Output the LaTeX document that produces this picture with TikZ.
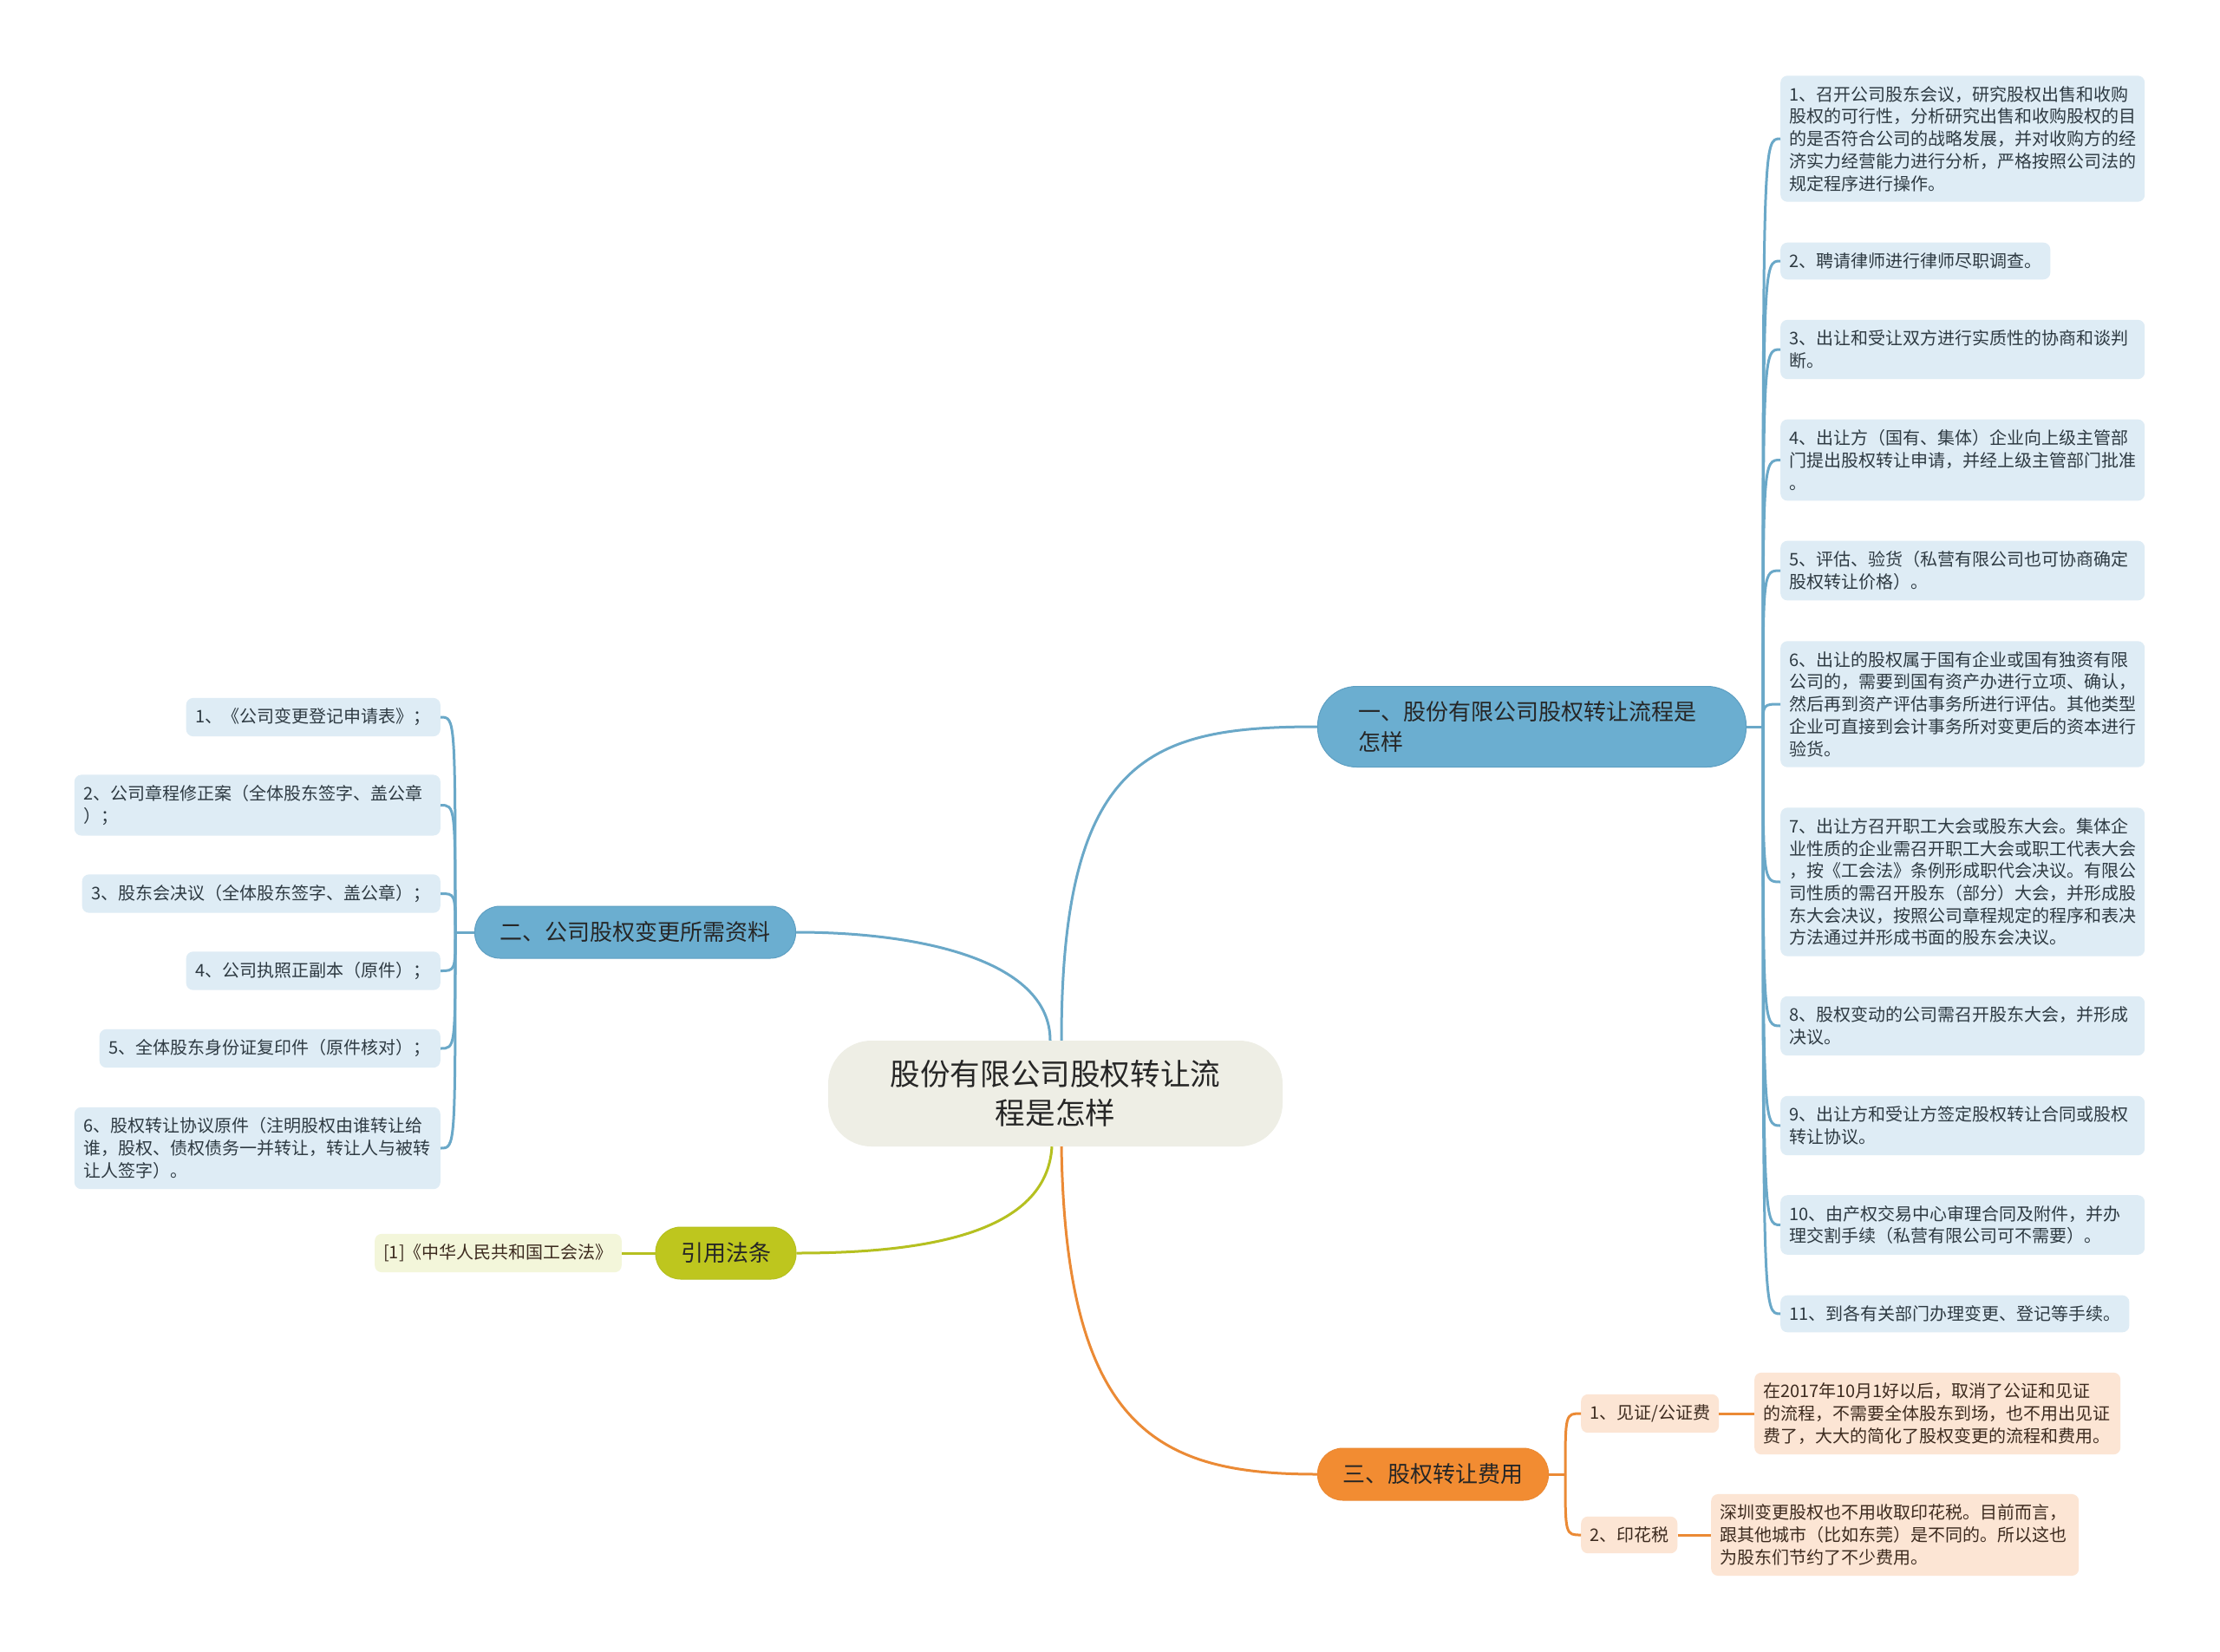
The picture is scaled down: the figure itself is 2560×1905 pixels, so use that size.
\documentclass[tikz,border=0pt]{standalone}
\usepackage{fontspec}
\setmainfont{Noto Sans CJK SC}
\definecolor{cfill}{HTML}{EEEEE5}
\definecolor{bfill}{HTML}{6BAED0}
\definecolor{bedge}{HTML}{5E9FC2}
\definecolor{bline}{HTML}{6AA8C8}
\definecolor{lfill}{HTML}{DEECF5}
\definecolor{gfill}{HTML}{BEC61E}
\definecolor{gline}{HTML}{B5C020}
\definecolor{glfill}{HTML}{F3F6DA}
\definecolor{ofill}{HTML}{F28C32}
\definecolor{oline}{HTML}{EB8A35}
\definecolor{olfill}{HTML}{FCE5D4}
\definecolor{ltext}{HTML}{2E3A42}
\definecolor{otext}{HTML}{3D2B1F}
\begin{document}
\begin{tikzpicture}[x=1pt,y=-1pt,
  centernode/.style={rounded corners=50pt, fill=cfill, minimum width=524pt, minimum height=122pt, align=center, font=\fontsize{34.6}{45.7}\selectfont, text=black!85},
  branch/.style={rounded corners=29pt, minimum height=60pt, inner xsep=29pt, inner ysep=0pt, font=\fontsize{26}{35}\selectfont, text=black!85},
  leaf/.style={rounded corners=8pt, inner xsep=10pt, inner ysep=12pt, align=left, font=\fontsize{20}{25.7}\selectfont, text=ltext},
  wide/.style={text width=400pt},
  bl/.style={draw=bline, line width=3pt},
  gl/.style={draw=gline, line width=3pt},
  ol/.style={draw=oline, line width=3pt}
]
\useasboundingbox (0,0) rectangle (2560,1905);
\fill[white] (0,0) rectangle (2560,1905);

% central node
\node[centernode] (c) at (1217,1261) {股份有限公司股权转让流\\程是怎样};

% branches
\node[branch, fill=bfill, draw=bedge, line width=1pt, rounded corners=45pt, minimum height=93pt, inner xsep=47pt, text width=400pt, align=left] (b1) at (1766.5,838) {一、股份有限公司股权转让流程是\\怎样};
\node[branch, fill=bfill, draw=bedge, line width=1pt] (b2) at (732.5,1075) {二、公司股权变更所需资料};
\node[branch, fill=gfill, draw=gline, line width=1pt] (b3) at (837,1445) {引用法条};
\node[branch, fill=ofill, draw=oline, line width=1pt] (b4) at (1652.5,1700) {三、股权转让费用};

% right leaves
\begin{scope}[every node/.style={leaf, fill=lfill, anchor=west}]
\node[wide] (r1) at (2053,160) {1、召开公司股东会议，研究股权出售和收购\\股权的可行性，分析研究出售和收购股权的目\\的是否符合公司的战略发展，并对收购方的经\\济实力经营能力进行分析，严格按照公司法的\\规定程序进行操作。};
\node (r2) at (2053,301) {2、聘请律师进行律师尽职调查。};
\node[wide] (r3) at (2053,403) {3、出让和受让双方进行实质性的协商和谈判\\断。};
\node[wide] (r4) at (2053,530.5) {4、出让方（国有、集体）企业向上级主管部\\门提出股权转让申请，并经上级主管部门批准\\。};
\node[wide] (r5) at (2053,658) {5、评估、验货（私营有限公司也可协商确定\\股权转让价格）。};
\node[wide] (r6) at (2053,812) {6、出让的股权属于国有企业或国有独资有限\\公司的，需要到国有资产办进行立项、确认，\\然后再到资产评估事务所进行评估。其他类型\\企业可直接到会计事务所对变更后的资本进行\\验货。};
\node[wide] (r7) at (2053,1017) {7、出让方召开职工大会或股东大会。集体企\\业性质的企业需召开职工大会或职工代表大会\\，按《工会法》条例形成职代会决议。有限公\\司性质的需召开股东（部分）大会，并形成股\\东大会决议，按照公司章程规定的程序和表决\\方法通过并形成书面的股东会决议。};
\node[wide] (r8) at (2053,1183) {8、股权变动的公司需召开股东大会，并形成\\决议。};
\node[wide] (r9) at (2053,1298) {9、出让方和受让方签定股权转让合同或股权\\转让协议。};
\node[wide] (r10) at (2053,1412.5) {10、由产权交易中心审理合同及附件，并办\\理交割手续（私营有限公司可不需要）。};
\node (r11) at (2053,1515) {11、到各有关部门办理变更、登记等手续。};
\end{scope}

% left leaves
\begin{scope}[every node/.style={leaf, fill=lfill, anchor=east, inner xsep=11pt}]
\node (l1) at (508,827) {1、《公司变更登记申请表》；};
\node[wide] (l2) at (508,928.5) {2、公司章程修正案（全体股东签字、盖公章\\）；};
\node (l3) at (508,1030.5) {3、股东会决议（全体股东签字、盖公章）；};
\node (l4) at (508,1119.5) {4、公司执照正副本（原件）；};
\node (l5) at (508,1209) {5、全体股东身份证复印件（原件核对）；};
\node[wide] (l6) at (508,1324) {6、股权转让协议原件（注明股权由谁转让给\\谁，股权、债权债务一并转让，转让人与被转\\让人签字）。};
\end{scope}

% green leaf
\node[leaf, fill=glfill, anchor=east, text=otext] (g1) at (717,1445) {[1]《中华人民共和国工会法》};

% orange leaves
\begin{scope}[every node/.style={leaf, fill=olfill, text=otext}]
\node[anchor=west] (oa) at (1823,1630) {1、见证/公证费};
\node[anchor=west, text width=402pt] (oad) at (2023,1630) {在2017年10月1好以后，取消了公证和见证\\的流程，不需要全体股东到场，也不用出见证\\费了，大大的简化了股权变更的流程和费用。};
\node[anchor=west] (ob) at (1823,1770) {2、印花税};
\node[anchor=west, text width=404pt] (obd) at (1973,1770) {深圳变更股权也不用收取印花税。目前而言，\\跟其他城市（比如东莞）是不同的。所以这也\\为股东们节约了不少费用。};
\end{scope}

% main connectors
\draw[bl] ([xshift=7pt]c.north) .. controls +(0,-330) and +(-190,0) .. (b1.west);
\draw[bl] ([xshift=-6pt]c.north) .. controls +(0,-90) and +(150,0) .. (b2.east);
\draw[gl] ([xshift=-4pt]c.south) .. controls +(-6,100) and +(150,0) .. (b3.east);
\draw[ol] ([xshift=7pt]c.south) .. controls +(5,330) and +(-180,0) .. (b4.west);

% branch 1 spine
\coordinate (s1) at (2033,838);
\draw[bl] (b1.east) -- (s1);
\foreach \n in {r1,r2,r3,r4,r5,r6,r7,r8,r9,r10,r11}
  \draw[bl] (s1) .. controls (s1 |- \n.west) .. (\n.west);

% branch 2 spine
\coordinate (s2) at (525,1075);
\draw[bl] (b2.west) -- (s2);
\foreach \n in {l1,l2,l3,l4,l5,l6}
  \draw[bl] (s2) .. controls (s2 |- \n.east) .. (\n.east);

% green
\draw[gl] (b3.west) -- (g1.east);

% orange spine
\coordinate (s4) at (1805,1700);
\draw[ol] (b4.east) -- (s4);
\draw[ol] (s4) .. controls (s4 |- oa.west) .. (oa.west);
\draw[ol] (s4) .. controls (s4 |- ob.west) .. (ob.west);
\draw[ol] (oa.east) -- (oad.west);
\draw[ol] (ob.east) -- (obd.west);
\end{tikzpicture}
\end{document}
